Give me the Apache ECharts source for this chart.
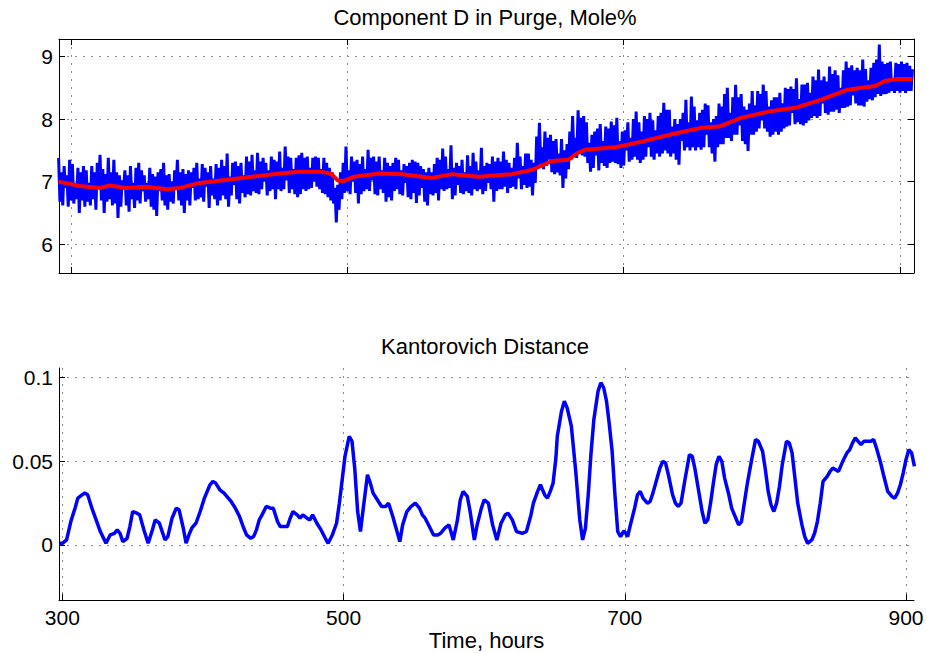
<!DOCTYPE html>
<html>
<head>
<meta charset="utf-8">
<script src="https://cdn.jsdelivr.net/npm/echarts@6/dist/echarts.min.js"></script>
<style>
  html, body { margin: 0; padding: 0; background: #fff; }
  #chart { width: 927px; height: 653px; }
</style>
</head>
<body>
<div id="chart"></div>
<script>
const FONT = '"Liberation Sans", Arial, Helvetica, sans-serif';

// Component D in purge (mole %), one sample per hour from hour 291
const purgeStart = 291;
const purgeStep = 1;
const purgeVals = [
  7.38, 6.68, 7.15, 6.62, 7.25, 6.90, 7.10, 6.60, 7.35, 6.70, 7.28, 6.65, 6.98, 6.72, 7.22, 6.50, 7.15, 6.70, 7.25, 6.60,
  7.18, 6.68, 6.98, 6.62, 7.25, 6.72, 7.15, 6.55, 7.30, 6.88, 7.43, 6.70, 7.20, 6.50, 7.12, 6.68, 7.38, 6.72, 7.15, 6.62,
  7.35, 6.65, 7.15, 6.42, 7.10, 6.60, 7.02, 6.88, 7.18, 6.62, 7.10, 6.52, 7.25, 6.72, 6.98, 6.58, 7.22, 6.70, 7.30, 6.65,
  7.18, 6.85, 7.10, 6.68, 6.98, 6.72, 7.22, 6.60, 7.12, 6.55, 7.08, 6.45, 7.15, 6.85, 7.20, 6.70, 7.30, 6.62, 7.10, 6.55,
  7.12, 6.68, 7.00, 6.65, 7.18, 6.88, 7.35, 6.70, 7.15, 6.62, 7.20, 6.50, 7.12, 6.70, 7.18, 6.62, 7.15, 6.90, 7.22, 6.70,
  7.30, 6.72, 7.05, 6.75, 7.28, 6.68, 7.22, 6.92, 7.15, 6.58, 7.25, 6.78, 7.05, 6.72, 7.28, 6.62, 7.22, 6.70, 7.35, 6.78,
  7.25, 6.72, 7.45, 6.60, 7.08, 6.78, 7.30, 6.95, 7.32, 6.72, 7.25, 6.65, 7.30, 6.82, 7.10, 6.75, 7.40, 6.80, 7.32, 6.78,
  7.43, 6.85, 7.18, 6.82, 7.46, 6.80, 7.32, 6.88, 7.38, 7.00, 7.30, 6.78, 7.18, 6.85, 7.40, 6.88, 7.35, 6.72, 7.32, 6.88,
  7.48, 6.85, 7.22, 6.88, 7.56, 7.02, 7.40, 6.82, 7.38, 6.88, 7.20, 6.80, 7.38, 6.75, 7.42, 6.80, 7.46, 6.88, 7.38, 6.85,
  7.40, 6.88, 7.22, 6.90, 7.38, 7.00, 7.40, 6.92, 7.38, 6.88, 7.20, 6.82, 7.38, 6.80, 7.30, 6.75, 7.22, 6.70, 7.15, 6.65,
  6.90, 6.35, 6.95, 6.55, 7.15, 6.72, 7.30, 6.82, 7.56, 6.85, 7.18, 6.80, 7.40, 7.00, 7.32, 6.82, 7.35, 6.65, 7.28, 6.80,
  7.40, 6.85, 7.20, 6.88, 7.51, 6.85, 7.38, 7.02, 7.40, 6.80, 7.32, 6.78, 7.40, 6.88, 7.18, 6.82, 7.38, 6.68, 7.30, 6.75,
  7.25, 6.70, 7.30, 6.85, 7.38, 6.88, 7.35, 6.80, 7.18, 6.78, 7.28, 6.98, 7.25, 6.75, 7.30, 6.72, 7.35, 6.82, 7.32, 6.66,
  7.30, 6.78, 7.25, 6.90, 7.20, 6.68, 7.15, 6.62, 7.22, 6.80, 7.15, 6.78, 7.28, 6.82, 7.38, 6.70, 7.35, 6.88, 7.53, 6.85,
  7.40, 6.88, 7.20, 6.90, 7.58, 6.72, 7.22, 6.78, 7.30, 6.95, 7.25, 6.82, 7.35, 6.80, 7.15, 6.85, 7.42, 6.82, 7.25, 6.78,
  7.46, 6.88, 7.32, 6.85, 7.18, 6.88, 7.54, 6.80, 7.25, 6.85, 7.30, 6.98, 7.28, 6.88, 7.40, 6.68, 7.32, 6.85, 7.38, 6.88,
  7.32, 6.88, 7.48, 6.92, 7.35, 6.82, 7.30, 6.90, 7.22, 6.92, 7.38, 6.88, 7.62, 7.05, 7.40, 6.88, 7.25, 6.95, 7.45, 6.90,
  7.45, 6.92, 7.35, 6.78, 7.30, 6.98, 7.72, 7.25, 7.94, 7.28, 7.55, 7.20, 7.80, 7.25, 7.70, 7.35, 7.75, 7.15, 7.65, 7.12,
  7.68, 7.15, 7.45, 7.10, 7.68, 6.90, 7.50, 7.05, 7.60, 7.20, 7.80, 7.35, 8.05, 7.40, 7.70, 7.38, 8.14, 7.45, 8.02, 7.42,
  8.05, 7.40, 7.95, 7.30, 7.62, 7.16, 7.75, 7.22, 7.80, 7.42, 7.85, 7.18, 7.92, 7.30, 7.65, 7.25, 7.88, 7.22, 7.85, 7.30,
  7.96, 7.32, 7.90, 7.30, 8.02, 7.28, 7.65, 7.22, 7.80, 7.26, 7.82, 7.50, 7.95, 7.32, 7.70, 7.35, 8.00, 7.40, 8.12, 7.35,
  7.95, 7.30, 7.80, 7.35, 8.05, 7.40, 8.00, 7.55, 8.10, 7.40, 7.98, 7.35, 7.82, 7.45, 8.05, 7.40, 8.10, 7.45, 8.26, 7.50,
  8.15, 7.45, 8.15, 7.40, 7.88, 7.45, 8.00, 7.35, 7.92, 7.27, 8.00, 7.65, 8.10, 7.50, 8.31, 7.55, 7.95, 7.50, 8.36, 7.55,
  8.20, 7.50, 7.98, 7.55, 8.10, 7.51, 8.15, 7.55, 8.25, 7.75, 8.22, 7.55, 7.95, 7.45, 8.00, 7.32, 8.05, 7.55, 8.25, 7.60,
  8.20, 7.60, 8.40, 7.70, 8.50, 7.70, 8.10, 7.65, 8.35, 7.75, 8.55, 7.75, 8.35, 7.90, 8.40, 7.65, 8.20, 7.60, 8.15, 7.49,
  8.25, 7.75, 8.45, 7.75, 8.22, 7.80, 8.45, 7.85, 8.40, 7.98, 8.55, 7.85, 8.45, 7.80, 8.20, 7.72, 8.30, 7.75, 8.35, 7.80,
  8.35, 7.75, 8.42, 7.80, 8.25, 7.85, 8.50, 7.88, 8.48, 7.90, 8.52, 8.10, 8.48, 7.92, 8.65, 7.95, 8.32, 7.92, 8.55, 7.90,
  8.55, 7.94, 8.58, 7.98, 8.42, 8.02, 8.68, 8.05, 8.62, 8.02, 8.79, 8.05, 8.62, 8.25, 8.68, 8.10, 8.60, 8.07, 8.84, 8.12,
  8.72, 8.12, 8.78, 8.15, 8.70, 8.10, 8.50, 8.18, 8.78, 8.18, 8.92, 8.20, 8.82, 8.22, 8.86, 8.38, 8.78, 8.25, 8.82, 8.22,
  8.78, 8.22, 8.95, 8.20, 8.80, 8.28, 8.62, 8.32, 8.82, 8.30, 8.90, 8.35, 8.95, 8.40, 9.19, 8.37, 8.92, 8.40, 8.88, 8.40,
  8.90, 8.42, 8.92, 8.45, 8.65, 8.42, 8.90, 8.45, 8.88, 8.42, 8.92, 8.45, 8.88, 8.42, 8.90, 8.45, 8.85, 8.45, 8.80
];

// Running mean of the purge composition
const trendTimes = [
  291, 300, 306, 321, 328, 340, 355, 369, 379, 393,
  413, 431, 451, 465, 480, 488, 493, 497, 505, 523,
  540, 561, 576, 595, 619, 634, 648, 660, 666, 672,
  694, 713, 737, 756, 769, 785, 805, 824, 843, 862,
  882, 889, 898, 909
];
const trendVals = [
  7.00, 6.96, 6.93, 6.90, 6.94, 6.90, 6.92, 6.88, 6.90, 6.98,
  7.03, 7.08, 7.13, 7.16, 7.16, 7.13, 7.02, 7.01, 7.08, 7.13,
  7.12, 7.06, 7.12, 7.08, 7.12, 7.19, 7.33, 7.35, 7.45, 7.51,
  7.55, 7.64, 7.77, 7.86, 7.88, 8.02, 8.12, 8.18, 8.31, 8.47,
  8.53, 8.61, 8.64, 8.64
];

// Kantorovich distance between successive windows
const kdTimes = [
  298, 300, 303, 306, 309, 311, 314, 316, 318, 321,
  324, 327, 331, 334, 337, 339, 341, 343, 346, 348,
  350, 353, 355, 358, 361, 364, 366, 369, 371, 373,
  375, 378, 381, 383, 386, 388, 390, 392, 395, 398,
  401, 405, 407, 409, 412, 415, 418, 420, 423, 426,
  429, 431, 434, 436, 438, 440, 442, 445, 448, 450,
  453, 455, 458, 460, 462, 464, 467, 469, 471, 474,
  476, 478, 481, 484, 487, 489, 492, 495, 497, 499,
  501, 504, 506, 508, 510, 512, 514, 517, 519, 521,
  524, 527, 530, 532, 535, 537, 540, 542, 545, 548,
  551, 554, 556, 558, 561, 564, 567, 569, 572, 575,
  578, 581, 583, 585, 588, 590, 593, 595, 598, 600,
  603, 606, 609, 612, 615, 617, 620, 623, 627, 630,
  633, 635, 638, 640, 643, 645, 647, 649, 651, 652,
  655, 657, 659, 662, 665, 668, 670, 672, 674, 676,
  678, 681, 683, 685, 687, 689, 691, 693, 695, 697,
  699, 700, 702, 704, 707, 709, 711, 713, 716, 718,
  720, 723, 725, 727, 729, 731, 734, 736, 738, 740,
  743, 746, 748, 750, 753, 755, 757, 759, 761, 763,
  765, 767, 769, 771, 774, 776, 779, 781, 783, 785,
  787, 790, 793, 795, 798, 800, 802, 804, 806, 808,
  810, 812, 815, 817, 819, 821, 823, 826, 828, 830,
  833, 835, 837, 839, 841, 844, 846, 848, 850, 852,
  855, 858, 860, 862, 864, 866, 868, 870, 873, 875,
  877, 879, 882, 884, 887, 890, 892, 894, 896, 898,
  900, 902, 904, 906
];
const kdVals = [
  0.001, 0.001, 0.003, 0.014, 0.022, 0.028, 0.030, 0.031, 0.030, 0.022,
  0.015, 0.008, 0.001, 0.006, 0.007, 0.009, 0.007, 0.002, 0.004, 0.011,
  0.020, 0.019, 0.018, 0.009, 0.001, 0.009, 0.015, 0.013, 0.008, 0.003,
  0.005, 0.016, 0.022, 0.021, 0.010, 0.001, 0.006, 0.010, 0.013, 0.020,
  0.028, 0.036, 0.038, 0.037, 0.033, 0.031, 0.028, 0.026, 0.022, 0.017,
  0.010, 0.006, 0.004, 0.005, 0.009, 0.015, 0.018, 0.023, 0.022, 0.022,
  0.014, 0.011, 0.011, 0.011, 0.016, 0.020, 0.018, 0.016, 0.018, 0.016,
  0.015, 0.018, 0.013, 0.009, 0.004, 0.001, 0.006, 0.013, 0.025, 0.039,
  0.053, 0.065, 0.062, 0.045, 0.020, 0.008, 0.022, 0.042, 0.037, 0.031,
  0.027, 0.023, 0.023, 0.025, 0.017, 0.011, 0.002, 0.012, 0.020, 0.023,
  0.025, 0.022, 0.018, 0.016, 0.011, 0.006, 0.006, 0.007, 0.010, 0.012,
  0.003, 0.015, 0.027, 0.032, 0.029, 0.020, 0.003, 0.012, 0.022, 0.027,
  0.025, 0.012, 0.003, 0.013, 0.018, 0.019, 0.015, 0.008, 0.007, 0.008,
  0.017, 0.025, 0.032, 0.036, 0.030, 0.028, 0.032, 0.037, 0.052, 0.065,
  0.080, 0.086, 0.082, 0.071, 0.045, 0.015, 0.003, 0.010, 0.030, 0.055,
  0.075, 0.092, 0.097, 0.094, 0.086, 0.072, 0.056, 0.030, 0.008, 0.005,
  0.008, 0.008, 0.005, 0.012, 0.022, 0.030, 0.032, 0.028, 0.025, 0.026,
  0.031, 0.040, 0.046, 0.050, 0.049, 0.042, 0.030, 0.025, 0.023, 0.025,
  0.040, 0.054, 0.053, 0.045, 0.030, 0.020, 0.013, 0.015, 0.025, 0.037,
  0.048, 0.053, 0.050, 0.040, 0.030, 0.022, 0.016, 0.012, 0.014, 0.025,
  0.036, 0.050, 0.063, 0.062, 0.056, 0.045, 0.032, 0.024, 0.020, 0.025,
  0.035, 0.048, 0.062, 0.061, 0.055, 0.040, 0.025, 0.012, 0.005, 0.001,
  0.003, 0.007, 0.014, 0.025, 0.038, 0.041, 0.044, 0.046, 0.045, 0.044,
  0.050, 0.055, 0.057, 0.061, 0.064, 0.062, 0.060, 0.062, 0.062, 0.062,
  0.063, 0.058, 0.049, 0.042, 0.032, 0.029, 0.028, 0.031, 0.036, 0.043,
  0.051, 0.057, 0.055, 0.047
];

// Tick positions
const timeTicks = [300, 500, 700, 900];
const purgeTicks = [6, 7, 8, 9];
const kdTicks = [0, 0.05, 0.1];

const purgeData = purgeVals.map((v, i) => [purgeStart + i * purgeStep, v]);
const trendData = trendTimes.map((t, i) => [t, trendVals[i]]);
const kdData = kdTimes.map((t, i) => [t, kdVals[i]]);

const gridLine = { show: true, lineStyle: { color: '#8c8c8c', width: 1, type: [2, 6] } };
const blackLine = { show: true, onZero: false, lineStyle: { color: '#000', width: 1 } };
const labelStyle = { color: '#000', fontFamily: FONT, fontSize: 21 };
const headStyle = { color: '#000', fontFamily: FONT, fontSize: 22 };

function tick(values) {
  return { show: true, inside: true, length: 6, customValues: values, lineStyle: { color: '#000', width: 1 } };
}

const chart = echarts.init(document.getElementById('chart'), null, { renderer: 'svg' });

chart.setOption({
  animation: false,
  backgroundColor: '#fff',
  graphic: [
    {
      type: 'text', x: 485, y: 17,
      style: { text: 'Component D in Purge, Mole%', font: '22px ' + FONT, fill: '#000', align: 'center', verticalAlign: 'middle' }
    },
    {
      type: 'text', x: 485, y: 346,
      style: { text: 'Kantorovich Distance', font: '22px ' + FONT, fill: '#000', align: 'center', verticalAlign: 'middle' }
    }
  ],
  grid: [
    { left: 59, right: 13, top: 39, height: 234 },
    { left: 59, right: 13, top: 368, height: 232 }
  ],
  xAxis: [
    {
      type: 'value', gridIndex: 0, min: 291.3, max: 910.1,
      axisLine: blackLine, axisTick: tick(timeTicks),
      axisLabel: { show: false, customValues: timeTicks },
      splitLine: gridLine
    },
    {
      type: 'value', gridIndex: 0, position: 'top', min: 291.3, max: 910.1,
      axisLine: blackLine, axisTick: tick(timeTicks),
      axisLabel: { show: false }, splitLine: { show: false }
    },
    {
      type: 'value', gridIndex: 1, min: 297.6, max: 905.7,
      axisLine: blackLine, axisTick: tick(timeTicks),
      axisLabel: Object.assign({ customValues: timeTicks, margin: 7 }, labelStyle),
      splitLine: gridLine,
      name: 'Time, hours', nameLocation: 'middle', nameGap: 29,
      nameTextStyle: headStyle
    }
  ],
  yAxis: [
    {
      type: 'value', gridIndex: 0, min: 5.54, max: 9.28,
      axisLine: blackLine, axisTick: tick(purgeTicks),
      axisLabel: Object.assign({ customValues: purgeTicks, margin: 6 }, labelStyle),
      splitLine: gridLine
    },
    {
      type: 'value', gridIndex: 0, position: 'right', min: 5.54, max: 9.28,
      axisLine: blackLine, axisTick: tick(purgeTicks),
      axisLabel: { show: false }, splitLine: { show: false }
    },
    {
      type: 'value', gridIndex: 1, min: -0.0329, max: 0.1058,
      axisLine: blackLine, axisTick: tick(kdTicks),
      axisLabel: Object.assign({ customValues: kdTicks, margin: 6 }, labelStyle),
      splitLine: gridLine
    }
  ],
  series: [
    {
      name: 'Component D', type: 'line', xAxisIndex: 0, yAxisIndex: 0,
      data: purgeData, showSymbol: false, symbol: 'none', sampling: null,
      lineStyle: { color: '#0000ff', width: 3 }
    },
    {
      name: 'Running mean', type: 'line', xAxisIndex: 0, yAxisIndex: 0,
      data: trendData, showSymbol: false, symbol: 'none',
      lineStyle: { color: '#ff0000', width: 4 }
    },
    {
      name: 'Kantorovich distance', type: 'line', xAxisIndex: 2, yAxisIndex: 2,
      data: kdData, showSymbol: false, symbol: 'none',
      lineStyle: { color: '#0000ff', width: 3.5 }
    }
  ]
});
</script>
</body>
</html>
